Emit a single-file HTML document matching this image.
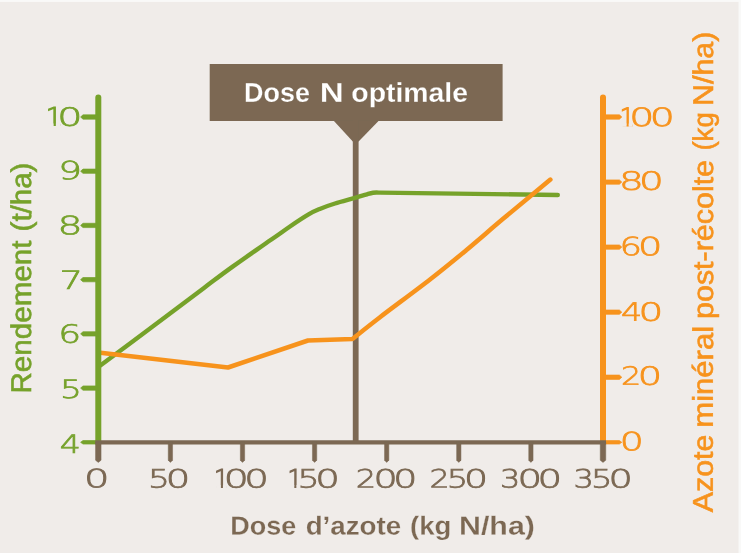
<!DOCTYPE html>
<html lang="fr">
<head>
<meta charset="utf-8">
<title>Dose N optimale</title>
<style>
html,body{margin:0;padding:0;background:#f9f9f8;}
body{width:741px;height:553px;overflow:hidden;position:relative;}
svg{position:absolute;left:0;top:0;display:block;}
text{font-family:"Liberation Sans",sans-serif;font-kerning:none;stroke-width:0;}
text.d{font-family:"DejaVu Sans Light","DejaVu Sans","Liberation Sans",sans-serif;font-weight:200;font-size:25.2px;stroke-width:0.7px;vector-effect:non-scaling-stroke;}
.one{stroke-width:1.2px;}
text.tb{font-weight:bold;stroke-width:0.2px;}
text.tm{stroke-width:0.6px;}
</style>
</head>
<body>
<svg width="741" height="553" viewBox="0 0 741 553">
<defs><filter id="soft" filterUnits="userSpaceOnUse" x="-10" y="-10" width="761" height="573"><feGaussianBlur stdDeviation="0.45"/></filter></defs>
<g filter="url(#soft)">
<rect x="-8" y="1.9" width="746.5" height="560" fill="#f0ece9"/>
<rect x="209.7" y="64" width="292.9" height="57" fill="#7b6853"/>
<polygon points="333.5,120.5 379,120.5 358.6,141.5 352.8,141.5" fill="#7b6853"/>
<line x1="355.7" y1="120" x2="355.7" y2="441" stroke="#7b6853" stroke-width="5.8"/>
<path d="M98.3,367.0 C107.2,360.3 134.4,340.2 152.0,327.0 C169.6,313.8 190.5,298.0 204.0,287.9 C217.5,277.8 221.8,274.4 233.0,266.4 C244.2,258.4 261.5,246.5 271.0,239.8 C280.5,233.2 283.7,230.8 290.0,226.5 C296.3,222.2 303.9,217.2 309.0,214.2 C314.1,211.2 316.1,210.5 320.4,208.7 C324.7,206.9 329.2,205.3 335.0,203.5 C340.8,201.7 349.8,199.4 355.0,197.9 C360.2,196.4 363.0,195.5 366.0,194.6 C369.0,193.7 370.7,193.0 373.0,192.7 C375.3,192.4 378.8,192.6 380.0,192.6 L557.8,195.0" fill="none" stroke="#76a22c" stroke-width="4.4" stroke-linejoin="round" stroke-linecap="round"/>
<path d="M98.3,352.6 L228,367.5 L308.0,340.5 L352.3,339.0 C356.9,335.4 367.1,327.1 380.0,317.2 C392.9,307.3 415.6,290.7 430.0,279.5 C444.4,268.3 454.3,260.1 466.5,250.0 C478.7,239.8 492.4,227.8 503.4,218.6 C514.4,209.4 524.6,201.1 532.4,194.6 C540.2,188.1 547.4,182.1 550.4,179.6" fill="none" stroke="#f7931e" stroke-width="4.5" stroke-linejoin="round" stroke-linecap="round"/>
<line x1="98.3" y1="97.5" x2="98.3" y2="441" stroke="#76a22c" stroke-width="6" stroke-linecap="round"/>
<polygon points="98.3,440.55 83.0,440.55 80.6,442.30 83.0,444.05 98.3,444.05" fill="#76a22c" stroke="#76a22c" stroke-width="0.7" stroke-linejoin="round"/>
<polygon points="98.3,385.93 83.0,385.93 80.6,388.08 83.0,390.23 98.3,390.23" fill="#76a22c" stroke="#76a22c" stroke-width="0.7" stroke-linejoin="round"/>
<polygon points="98.3,331.72 83.0,331.72 80.6,333.87 83.0,336.02 98.3,336.02" fill="#76a22c" stroke="#76a22c" stroke-width="0.7" stroke-linejoin="round"/>
<polygon points="98.3,277.50 83.0,277.50 80.6,279.65 83.0,281.80 98.3,281.80" fill="#76a22c" stroke="#76a22c" stroke-width="0.7" stroke-linejoin="round"/>
<polygon points="98.3,223.28 83.0,223.28 80.6,225.43 83.0,227.58 98.3,227.58" fill="#76a22c" stroke="#76a22c" stroke-width="0.7" stroke-linejoin="round"/>
<polygon points="98.3,169.07 83.0,169.07 80.6,171.22 83.0,173.37 98.3,173.37" fill="#76a22c" stroke="#76a22c" stroke-width="0.7" stroke-linejoin="round"/>
<polygon points="98.3,114.85 83.0,114.85 80.6,117.00 83.0,119.15 98.3,119.15" fill="#76a22c" stroke="#76a22c" stroke-width="0.7" stroke-linejoin="round"/>
<line x1="603.0" y1="97.5" x2="603.0" y2="441" stroke="#f7931e" stroke-width="6" stroke-linecap="round"/>
<polygon points="603.0,440.60 619.4,440.60 621.8,442.30 619.4,444.00 603.0,444.00" fill="#f7931e" stroke="#f7931e" stroke-width="0.7" stroke-linejoin="round"/>
<polygon points="603.0,375.09 619.4,375.09 621.8,377.24 619.4,379.39 603.0,379.39" fill="#f7931e" stroke="#f7931e" stroke-width="0.7" stroke-linejoin="round"/>
<polygon points="603.0,310.03 619.4,310.03 621.8,312.18 619.4,314.33 603.0,314.33" fill="#f7931e" stroke="#f7931e" stroke-width="0.7" stroke-linejoin="round"/>
<polygon points="603.0,244.97 619.4,244.97 621.8,247.12 619.4,249.27 603.0,249.27" fill="#f7931e" stroke="#f7931e" stroke-width="0.7" stroke-linejoin="round"/>
<polygon points="603.0,179.91 619.4,179.91 621.8,182.06 619.4,184.21 603.0,184.21" fill="#f7931e" stroke="#f7931e" stroke-width="0.7" stroke-linejoin="round"/>
<polygon points="603.0,114.85 619.4,114.85 621.8,117.00 619.4,119.15 603.0,119.15" fill="#f7931e" stroke="#f7931e" stroke-width="0.7" stroke-linejoin="round"/>
<line x1="95.3" y1="442.3" x2="606.0" y2="442.3" stroke="#7b6853" stroke-width="4.3"/>
<polygon points="95.55,442.3 95.55,460.2 98.30,462.4 101.05,460.2 101.05,442.3" fill="#7b6853" stroke="#7b6853" stroke-width="0.5" stroke-linejoin="round"/>
<polygon points="168.25,442.3 168.25,460.2 170.40,462.4 172.55,460.2 172.55,442.3" fill="#7b6853" stroke="#7b6853" stroke-width="0.5" stroke-linejoin="round"/>
<polygon points="240.35,442.3 240.35,460.2 242.50,462.4 244.65,460.2 244.65,442.3" fill="#7b6853" stroke="#7b6853" stroke-width="0.5" stroke-linejoin="round"/>
<polygon points="312.45,442.3 312.45,460.2 314.60,462.4 316.75,460.2 316.75,442.3" fill="#7b6853" stroke="#7b6853" stroke-width="0.5" stroke-linejoin="round"/>
<polygon points="384.55,442.3 384.55,460.2 386.70,462.4 388.85,460.2 388.85,442.3" fill="#7b6853" stroke="#7b6853" stroke-width="0.5" stroke-linejoin="round"/>
<polygon points="456.65,442.3 456.65,460.2 458.80,462.4 460.95,460.2 460.95,442.3" fill="#7b6853" stroke="#7b6853" stroke-width="0.5" stroke-linejoin="round"/>
<polygon points="528.75,442.3 528.75,460.2 530.90,462.4 533.05,460.2 533.05,442.3" fill="#7b6853" stroke="#7b6853" stroke-width="0.5" stroke-linejoin="round"/>
<polygon points="600.25,442.3 600.25,460.2 603.00,462.4 605.75,460.2 605.75,442.3" fill="#7b6853" stroke="#7b6853" stroke-width="0.5" stroke-linejoin="round"/>
<text class="d" transform="translate(0,125.60) rotate(0.03)" fill="#76a22c" stroke="#76a22c"><tspan class="one" x="45.88" textLength="16.90" lengthAdjust="spacingAndGlyphs">1</tspan><tspan x="57.16" textLength="25.22" lengthAdjust="spacingAndGlyphs">0</tspan></text>
<rect x="48.62" y="123.60" width="5.03" height="3.2" fill="#f0ece9"/>
<rect x="55.85" y="123.60" width="4.43" height="3.2" fill="#f0ece9"/>
<text class="d" transform="translate(0,179.20) rotate(0.03)" fill="#76a22c" stroke="#76a22c"><tspan x="58.17" textLength="23.78" lengthAdjust="spacingAndGlyphs">9</tspan></text>
<text class="d" transform="translate(0,234.20) rotate(0.03)" fill="#76a22c" stroke="#76a22c"><tspan x="57.59" textLength="25.04" lengthAdjust="spacingAndGlyphs">8</tspan></text>
<text class="d" transform="translate(0,288.95) rotate(0.03)" fill="#76a22c" stroke="#76a22c"><tspan x="59.58" textLength="23.39" lengthAdjust="spacingAndGlyphs">7</tspan></text>
<text class="d" transform="translate(0,342.75) rotate(0.03)" fill="#76a22c" stroke="#76a22c"><tspan x="58.30" textLength="22.94" lengthAdjust="spacingAndGlyphs">6</tspan></text>
<text class="d" transform="translate(0,397.95) rotate(0.03)" fill="#76a22c" stroke="#76a22c"><tspan x="60.00" textLength="21.94" lengthAdjust="spacingAndGlyphs">5</tspan></text>
<text class="d" transform="translate(0,452.95) rotate(0.03)" fill="#76a22c" stroke="#76a22c"><tspan x="59.68" textLength="21.07" lengthAdjust="spacingAndGlyphs">4</tspan></text>
<text class="d" transform="translate(0,125.60) rotate(0.03)" fill="#f7931e" stroke="#f7931e"><tspan class="one" x="619.69" textLength="15.10" lengthAdjust="spacingAndGlyphs">1</tspan><tspan x="629.38" textLength="25.08" lengthAdjust="spacingAndGlyphs">0</tspan><tspan x="649.88" textLength="25.08" lengthAdjust="spacingAndGlyphs">0</tspan></text>
<rect x="622.02" y="123.60" width="4.58" height="3.2" fill="#f0ece9"/>
<rect x="628.65" y="123.60" width="3.98" height="3.2" fill="#f0ece9"/>
<text class="d" transform="translate(0,189.35) rotate(0.03)" fill="#f7931e" stroke="#f7931e"><tspan x="618.93" textLength="24.75" lengthAdjust="spacingAndGlyphs">8</tspan><tspan x="639.12" textLength="24.80" lengthAdjust="spacingAndGlyphs">0</tspan></text>
<text class="d" transform="translate(0,254.95) rotate(0.03)" fill="#f7931e" stroke="#f7931e"><tspan x="619.46" textLength="22.51" lengthAdjust="spacingAndGlyphs">6</tspan><tspan x="638.08" textLength="24.38" lengthAdjust="spacingAndGlyphs">0</tspan></text>
<text class="d" transform="translate(0,320.50) rotate(0.03)" fill="#f7931e" stroke="#f7931e"><tspan x="620.97" textLength="21.19" lengthAdjust="spacingAndGlyphs">4</tspan><tspan x="638.52" textLength="24.80" lengthAdjust="spacingAndGlyphs">0</tspan></text>
<text class="d" transform="translate(0,384.50) rotate(0.03)" fill="#f7931e" stroke="#f7931e"><tspan x="620.99" textLength="20.31" lengthAdjust="spacingAndGlyphs">2</tspan><tspan x="637.78" textLength="24.38" lengthAdjust="spacingAndGlyphs">0</tspan></text>
<text class="d" transform="translate(0,450.05) rotate(0.03)" fill="#f7931e" stroke="#f7931e"><tspan x="619.72" textLength="24.10" lengthAdjust="spacingAndGlyphs">0</tspan></text>
<text class="d" transform="translate(0,487.30) rotate(0.03)" fill="#7b6853" stroke="#7b6853"><tspan x="83.92" textLength="25.50" lengthAdjust="spacingAndGlyphs">0</tspan></text>
<text class="d" transform="translate(0,487.30) rotate(0.03)" fill="#7b6853" stroke="#7b6853"><tspan x="148.10" textLength="21.94" lengthAdjust="spacingAndGlyphs">5</tspan><tspan x="165.76" textLength="24.52" lengthAdjust="spacingAndGlyphs">0</tspan></text>
<text class="d" transform="translate(0,487.30) rotate(0.03)" fill="#7b6853" stroke="#7b6853"><tspan class="one" x="213.99" textLength="15.10" lengthAdjust="spacingAndGlyphs">1</tspan><tspan x="223.78" textLength="25.08" lengthAdjust="spacingAndGlyphs">0</tspan><tspan x="244.34" textLength="24.66" lengthAdjust="spacingAndGlyphs">0</tspan></text>
<rect x="216.32" y="485.30" width="4.58" height="3.2" fill="#f0ece9"/>
<rect x="222.95" y="485.30" width="3.98" height="3.2" fill="#f0ece9"/>
<text class="d" transform="translate(0,487.30) rotate(0.03)" fill="#7b6853" stroke="#7b6853"><tspan class="one" x="287.39" textLength="15.10" lengthAdjust="spacingAndGlyphs">1</tspan><tspan x="297.58" textLength="22.09" lengthAdjust="spacingAndGlyphs">5</tspan><tspan x="315.34" textLength="24.66" lengthAdjust="spacingAndGlyphs">0</tspan></text>
<rect x="289.72" y="485.30" width="4.58" height="3.2" fill="#f0ece9"/>
<rect x="296.35" y="485.30" width="3.98" height="3.2" fill="#f0ece9"/>
<text class="d" transform="translate(0,487.30) rotate(0.03)" fill="#7b6853" stroke="#7b6853"><tspan x="355.77" textLength="20.44" lengthAdjust="spacingAndGlyphs">2</tspan><tspan x="373.60" textLength="24.24" lengthAdjust="spacingAndGlyphs">0</tspan><tspan x="393.22" textLength="24.10" lengthAdjust="spacingAndGlyphs">0</tspan></text>
<text class="d" transform="translate(0,487.30) rotate(0.03)" fill="#7b6853" stroke="#7b6853"><tspan x="429.40" textLength="20.17" lengthAdjust="spacingAndGlyphs">2</tspan><tspan x="446.67" textLength="21.49" lengthAdjust="spacingAndGlyphs">5</tspan><tspan x="464.02" textLength="24.10" lengthAdjust="spacingAndGlyphs">0</tspan></text>
<text class="d" transform="translate(0,487.30) rotate(0.03)" fill="#7b6853" stroke="#7b6853"><tspan x="500.07" textLength="20.27" lengthAdjust="spacingAndGlyphs">3</tspan><tspan x="517.44" textLength="24.66" lengthAdjust="spacingAndGlyphs">0</tspan><tspan x="537.54" textLength="24.66" lengthAdjust="spacingAndGlyphs">0</tspan></text>
<text class="d" transform="translate(0,487.30) rotate(0.03)" fill="#7b6853" stroke="#7b6853"><tspan x="573.56" textLength="20.41" lengthAdjust="spacingAndGlyphs">3</tspan><tspan x="591.07" textLength="21.49" lengthAdjust="spacingAndGlyphs">5</tspan><tspan x="608.58" textLength="24.38" lengthAdjust="spacingAndGlyphs">0</tspan></text>
<text class="tb" transform="translate(0,101.6) rotate(0.03)" font-size="26.9" fill="#ffffff" stroke="#7b6853"><tspan x="244.10" textLength="65.82" lengthAdjust="spacingAndGlyphs">Dose</tspan> <tspan x="319.78" textLength="23.95" lengthAdjust="spacingAndGlyphs">N</tspan> <tspan x="351.29" textLength="116.78" lengthAdjust="spacingAndGlyphs">optimale</tspan></text>
<text class="tb" transform="translate(0,534.3) rotate(0.03)" font-size="25.8" fill="#7b6853" stroke="#f0ece9"><tspan x="230.30" textLength="65.92" lengthAdjust="spacingAndGlyphs">Dose</tspan> <tspan x="305.66" textLength="95.59" lengthAdjust="spacingAndGlyphs">d’azote</tspan> <tspan x="410.03" textLength="41.31" lengthAdjust="spacingAndGlyphs">(kg</tspan> <tspan x="458.97" textLength="75.95" lengthAdjust="spacingAndGlyphs">N/ha)</tspan></text>
<text class="tm" transform="translate(31.0,391.1) rotate(-89.97)" font-size="28.5" fill="#76a22c" stroke="#76a22c"><tspan x="-2.43" textLength="153.05" lengthAdjust="spacingAndGlyphs">Rendement</tspan> <tspan x="159.67" textLength="68.86" lengthAdjust="spacingAndGlyphs">(t/ha)</tspan></text>
<text class="tm" transform="translate(712.8,512.2) rotate(-89.97)" font-size="28.5" fill="#f7931e" stroke="#f7931e"><tspan x="-0.06" textLength="77.61" lengthAdjust="spacingAndGlyphs">Azote</tspan> <tspan x="84.54" textLength="101.74" lengthAdjust="spacingAndGlyphs">minéral</tspan> <tspan x="193.24" textLength="159.01" lengthAdjust="spacingAndGlyphs">post-récolte</tspan> <tspan x="361.59" textLength="38.40" lengthAdjust="spacingAndGlyphs">(kg</tspan> <tspan x="406.20" textLength="74.38" lengthAdjust="spacingAndGlyphs">N/ha)</tspan></text>
</g>
</svg>
</body>
</html>
